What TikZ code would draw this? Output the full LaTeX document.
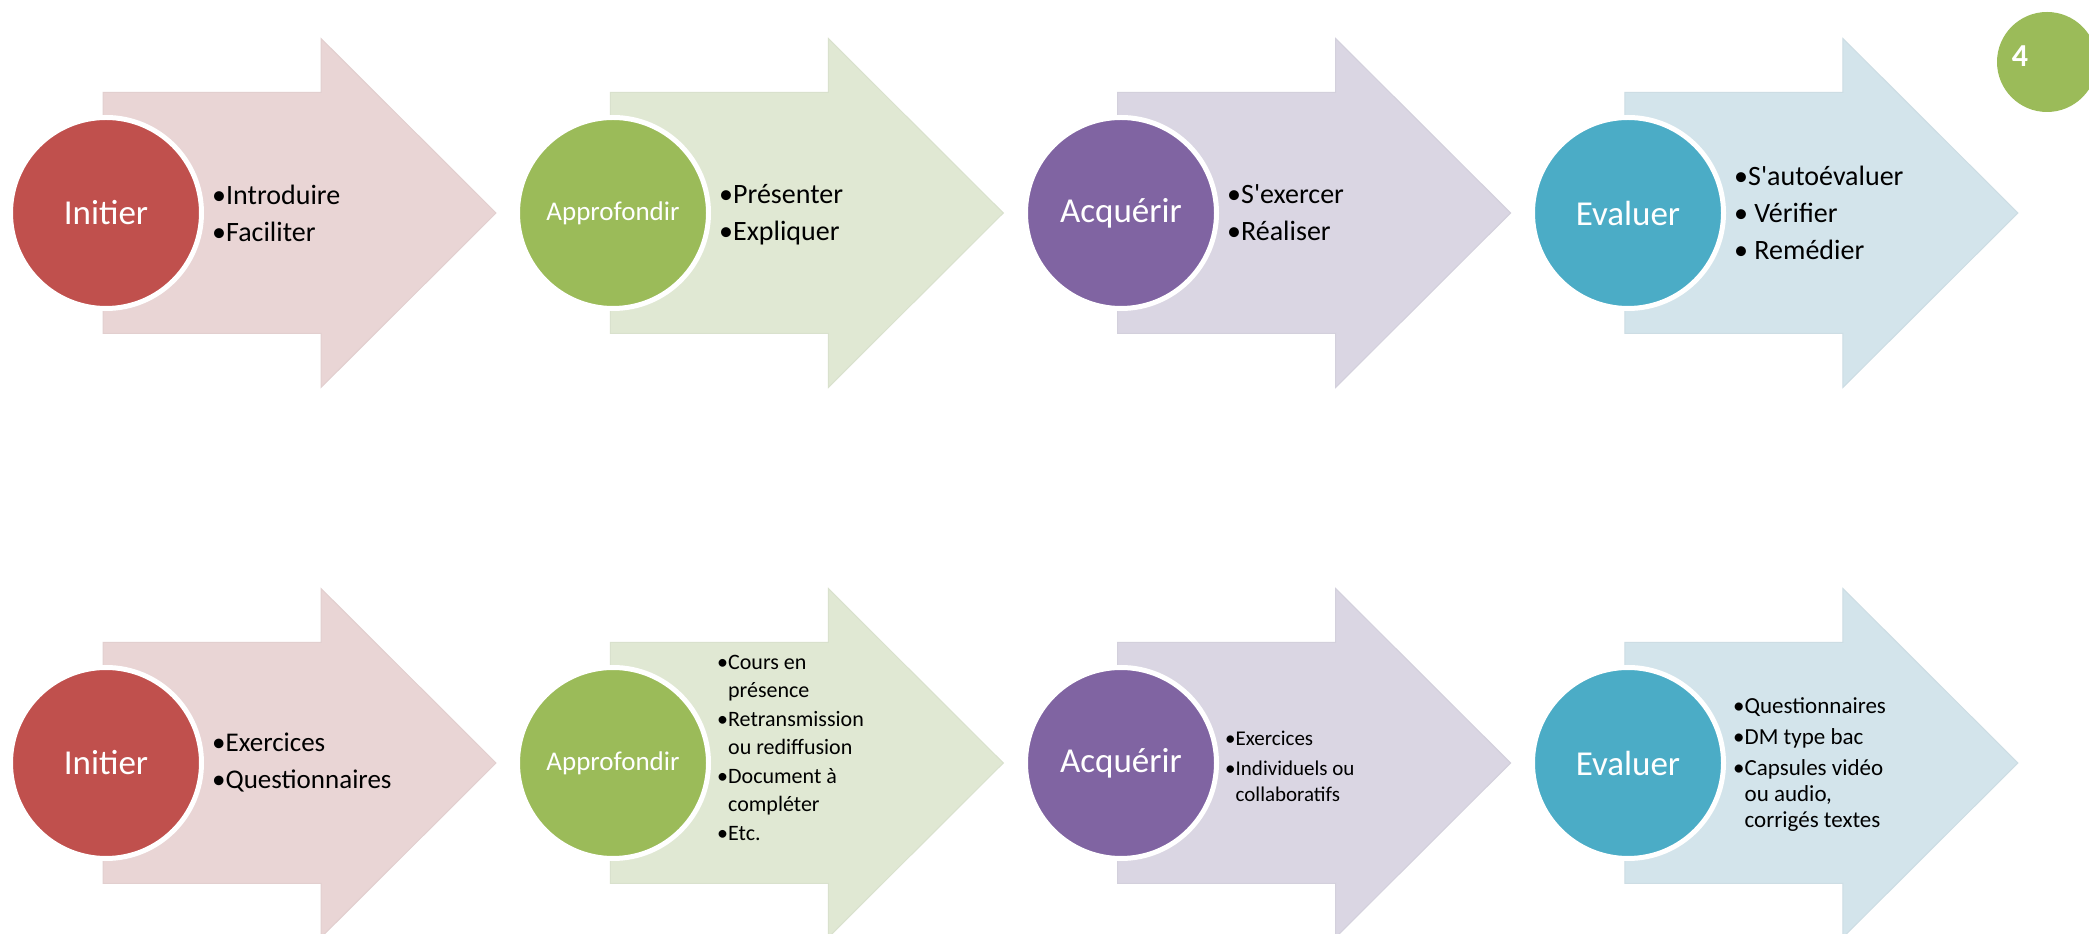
\documentclass[tikz,border=0pt]{standalone}
\usepackage{fontspec}
\setmainfont{Carlito}

\definecolor{redA}{HTML}{C0504D}
\definecolor{redB}{HTML}{E9D5D5}
\definecolor{greenA}{HTML}{9BBB59}
\definecolor{greenB}{HTML}{E0E8D3}
\definecolor{violetA}{HTML}{8064A2}
\definecolor{violetB}{HTML}{DAD6E3}
\definecolor{blueA}{HTML}{4BACC6}
\definecolor{blueB}{HTML}{D3E4EB}

\newcommand{\hang}{\hphantom{•}}

\tikzset{
    disc/.style={circle,draw=white,line width=5pt,minimum size=191pt,inner sep=0pt,
        text=white,font=\fontsize{35}{40}\selectfont},
    items/.style={anchor=west,align=left,inner sep=0pt,font=\fontsize{28}{37}\selectfont},
}

\begin{document}
\begin{tikzpicture}[x=1pt,y=1pt]
                    \fill[white] (0,0) rectangle (2089,934);
                    \clip (0,0) rectangle (2089,934);
                    % arrows
                    \foreach \row in {721,171}{
                            \foreach \k/\bg in {0/redB,1/greenB,2/violetB,3/blueB} {
                                    \pgfmathsetmacro\L{103+507.3*\k}
                                    \filldraw[fill=\bg,draw=\bg!97!black,line width=1pt]
                                        (\L,\row+120.5) -- (\L+218,\row+120.5) -- (\L+218,\row+174.5)
                                        -- (\L+393,\row) -- (\L+218,\row-174.5) -- (\L+218,\row-120.5)
                                        -- (\L,\row-120.5) -- cycle;
                                }
                        }

                    \node[disc,fill=redA] (ini1) at (106,721) {Initier};
                    \node[disc,fill=greenA,font=\fontsize{27}{32}\selectfont] (app1) at (613,721) {Approfondir};
                    \node[disc,fill=violetA] (acq1) at (1121,721) {Acquérir};
                    \node[disc,fill=blueA] (eva1) at (1628,721) {Evaluer};

                    \node[disc,fill=redA] (ini2) at (106,171) {Initier};
                    \node[disc,fill=greenA,font=\fontsize{27}{32}\selectfont] (app2) at (613,171) {Approfondir};
                    \node[disc,fill=violetA] (acq2) at (1121,171) {Acquérir};
                    \node[disc,fill=blueA] (eva2) at (1628,171) {Evaluer};

                    \node[items] (txtini1) at (212,721) {•Introduire\\•Faciliter};
                    \node[items] (txtapp1) at (719,719) {•Présenter\\•Expliquer};
                    \node[items] (txtacq1) at (1227,721) {•S\textquotesingle exercer\\•Réaliser};
                    \node[items] (txteva1) at (1734,721) {•S\textquotesingle autoévaluer\\• Vérifier\\• Remédier};

                    \node[items,font=\fontsize{27}{37}\selectfont] (txtini2) at (212,171) {•Exercices\\•Questionnaires};
                    \node[items,font=\fontsize{22}{27.5}\selectfont] (txtapp2) at (717,186)
                        {•Cours en\\\hang présence\\[2pt]•Retransmission\\\hang ou rediffusion\\[2pt]•Document à\\\hang compléter\\[2pt]•Etc.};
                    \node[items,font=\fontsize{21}{26}\selectfont] (txtacq2) at (1225,168)
                        {•Exercices\\[4pt]•Individuels ou\\\hang collaboratifs};
                    \node[items,font=\fontsize{23}{26}\selectfont] (txteva2) at (1733,169)
                        {•Questionnaires\\[5pt]•DM type bac\\[5pt]•Capsules vidéo\\\hang ou audio,\\\hang corrigés textes};

                    % page number
                    \node[circle,fill=greenA,minimum size=100pt,inner sep=0pt] (badge) at (2047,872) {};
                    \node[text=white,font=\bfseries\fontsize{32}{36}\selectfont] (num) at (2020,878) {4};
                \end{tikzpicture}
\end{document}
